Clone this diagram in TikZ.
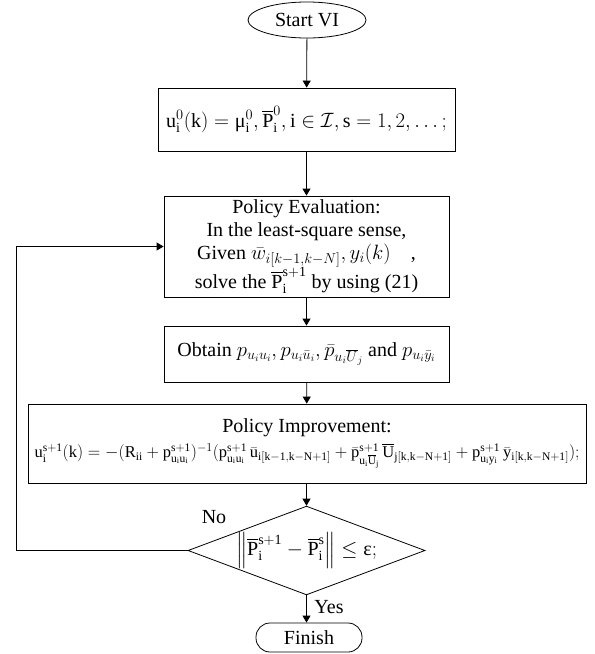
\documentclass[tikz,border=0pt]{standalone}
\usepackage{amsmath}
\usepackage{amssymb}
\usepackage{fontspec}
\setmainfont{Liberation Serif}
\usetikzlibrary{shapes.geometric,arrows.meta}
\tikzset{every picture/.style={line width=0.8pt}}
\tikzset{
  flowbox/.style={draw, rectangle, align=center, inner sep=2pt},
  startnode/.style={draw, ellipse, inner sep=0pt},
  endnode/.style={draw, rectangle, rounded corners=14pt, inner sep=0pt},
  decide/.style={draw, diamond, aspect=2.67, inner sep=0pt},
  flow/.style={-{Triangle[width=8pt,length=7pt]}}
}
\newcommand{\rmm}[1]{\mathrm{#1}}
\newcommand{\Pbar}{\overline{\rmm{P}}}

\begin{document}
\begin{tikzpicture}[x=1pt,y=-1pt,font=\fontsize{20}{23}\selectfont]
\useasboundingbox (0,0) rectangle (595,654);
%
\node[startnode, minimum width=118pt, minimum height=36pt] (start) at (307,20) {Start VI};
\node[flowbox, minimum width=297pt, minimum height=63pt] (init) at (306.5,119.5)
  {$\rmm{u}_\rmm{i}^{0}(\rmm{k})=\text{μ}_\rmm{i}^{0},\Pbar_\rmm{i}^{0},\rmm{i}\in\mathcal{I},\rmm{s}=1,2,\ldots;$};
\node[flowbox, minimum width=285pt, minimum height=101pt] (eval) at (306.5,246.5)
  {Policy Evaluation:\\
   In the least-square sense,\\
   Given $\bar{w}_{i[k-1,k-N]},y_i(k)$\quad,\\
   solve the $\Pbar_\rmm{i}^{\rmm{s+1}}$ by\ using (21)};
\node[flowbox, minimum width=285pt, minimum height=56pt] (obtain) at (306.5,354)
  {Obtain $p_{u_iu_i},p_{u_i\bar{u}_i},\bar{p}_{u_i\overline{U}_j}$\ and $p_{u_i\bar{y}_i}$};
\node[flowbox, minimum width=558pt, minimum height=79pt] (improve) at (307,443.5)
  {Policy Improvement:\\[2pt]
   {\fontsize{16.5}{20}\selectfont$\rmm{u}_\rmm{i}^{\rmm{s+1}}(\rmm{k})=-(\rmm{R}_\rmm{ii}+\rmm{p}^{\rmm{s+1}}_{\rmm{u_iu_i}})^{-1}
   (\rmm{p}^{\rmm{s+1}}_{\rmm{u_i\bar{u}_i}}\,\bar{\rmm{u}}_{\rmm{i[k-1,k-N+1]}}
   +\bar{\rmm{p}}^{\rmm{s+1}}_{\rmm{u_i\overline{U}_j}}\,\overline{\rmm{U}}_{\rmm{j[k,k-N+1]}}
   +\rmm{p}^{\rmm{s+1}}_{\rmm{u_i\bar{y}_i}}\,\bar{\rmm{y}}_{\rmm{i[k,k-N+1]}});$}};
\node[decide, minimum width=227pt, minimum height=85pt] (check) at (306.5,550.5)
  {$\left\|\Pbar_\rmm{i}^{\rmm{s+1}}-\Pbar_\rmm{i}^{\rmm{s}}\right\|\le\text{ε};$};
\node[endnode, minimum width=106pt, minimum height=29pt] (finish) at (309,637.5) {Finish};
%
\coordinate (back) at (16,550.5);
\node (no) at (214,517) {No};
\node (yes) at (329,607) {Yes};
%
\draw[flow] (start) -- (init);
\draw[flow] (init) -- (eval);
\draw[flow] (eval) -- (obtain);
\draw[flow] (obtain) -- (improve);
\draw[flow] (improve.south -| check.north) -- (check.north);
\draw[flow] (check.south) -- (check.south |- finish.north);
\draw[flow] (check.west) -- (back) |- (eval.west);
\end{tikzpicture}
\end{document}
